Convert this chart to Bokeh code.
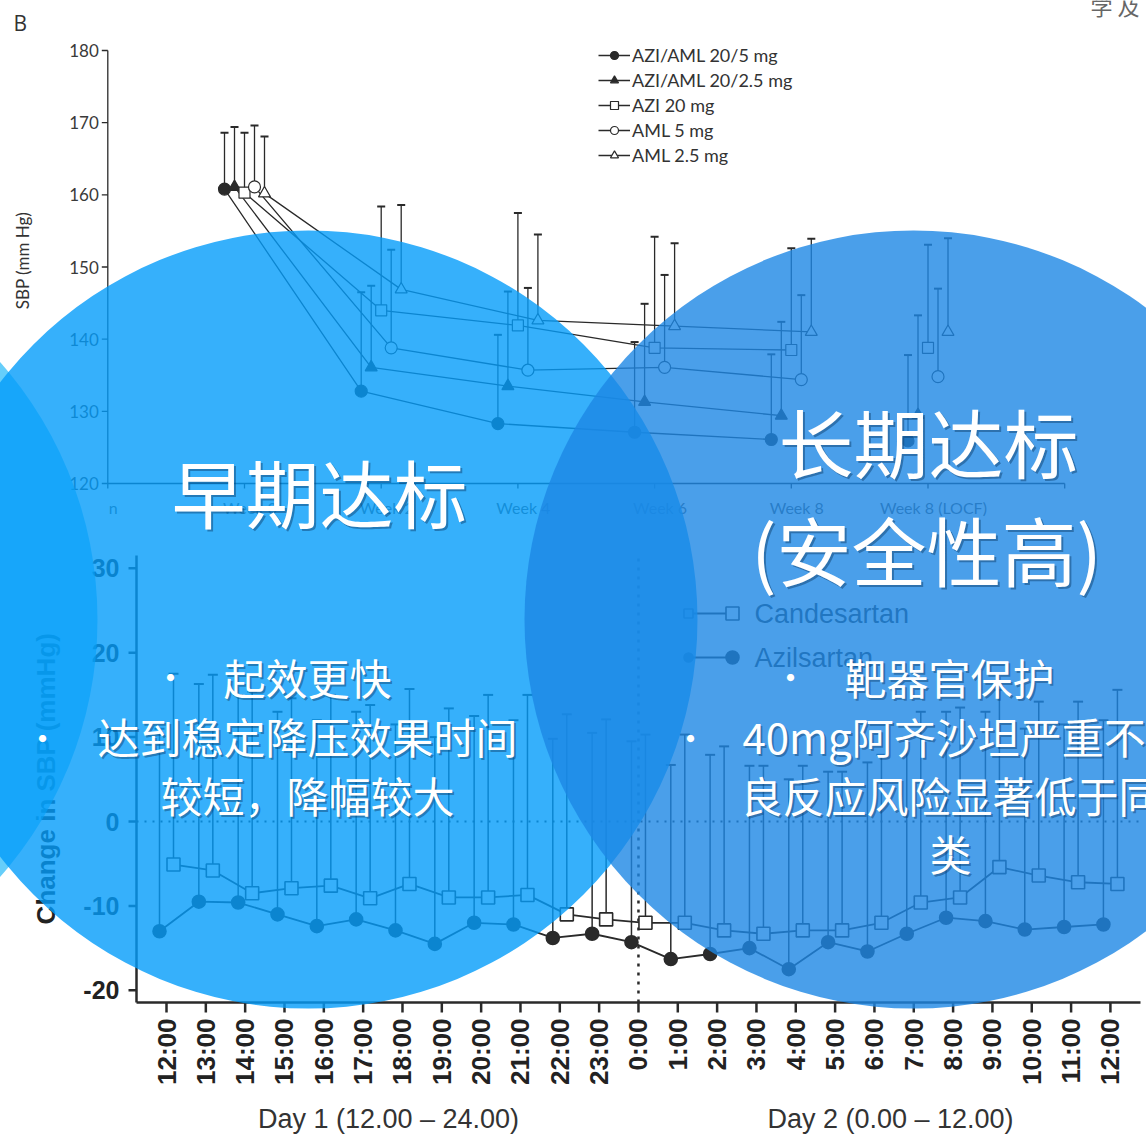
import math
from bokeh.plotting import figure
from bokeh.models import Range1d, Legend, LegendItem
from bokeh.core.properties import value
from bokeh.embed import file_html
from bokeh.resources import INLINE

W, H = 1146, 1135

# ---------------- Top panel: mean SBP (mm Hg), upper whiskers ----------------
top_visits = ["Week 0", "Week 2", "Week 4", "Week 6", "Week 8", "Week 8 (LOCF)"]
top_tick_labels = ["n", "Week 0", "Week 2", "Week 4", "Week 6", "Week 8", "Week 8 (LOCF)"]
top_y_ticks = [120, 130, 140, 150, 160, 170, 180]
top_series = ["AZI/AML 20/5 mg", "AZI/AML 20/2.5 mg", "AZI 20 mg", "AML 5 mg", "AML 2.5 mg"]

sbp_azi_aml_20_5 = [160.8, 132.8, 128.3, 127.1, 126.1, 125.9]
sbp_azi_aml_20_5_up = [168.6, 146.5, 140.6, 139.6, 137.9, 137.8]
sbp_azi_aml_20_25 = [161.1, 136.1, 133.5, 131.3, 129.4, 129.5]
sbp_azi_aml_20_25_up = [169.4, 147.4, 146.6, 144.9, 142.4, 143.3]
sbp_azi_20 = [160.3, 144.0, 141.9, 138.8, 138.5, 138.8]
sbp_azi_20_up = [168.6, 158.4, 157.5, 154.2, 152.6, 153.1]
sbp_aml_5 = [161.1, 138.8, 135.7, 136.1, 134.4, 134.8]
sbp_aml_5_up = [169.6, 152.4, 147.1, 148.9, 146.1, 147.0]
sbp_aml_25 = [160.2, 146.9, 142.6, 141.8, 141.0, 141.0]
sbp_aml_25_up = [168.1, 158.6, 154.5, 153.3, 153.9, 154.0]

# ---------------- Bottom panel: change in SBP (mmHg) by hour ----------------
hour_labels = ["12:00", "13:00", "14:00", "15:00", "16:00", "17:00", "18:00", "19:00",
               "20:00", "21:00", "22:00", "23:00", "0:00", "1:00", "2:00", "3:00",
               "4:00", "5:00", "6:00", "7:00", "8:00", "9:00", "10:00", "11:00", "12:00"]
bottom_y_ticks = [-20, -10, 0, 10, 20, 30]
bottom_series = ["Candesartan", "Azilsartan"]
azil_change = [-13.0, -9.5, -9.6, -11.0, -12.4, -11.6, -12.9, -14.5, -12.0, -12.2, -13.8, -13.3,
               -14.3, -16.3, -15.7, -15.0, -17.5, -14.3, -15.4, -13.3, -11.4, -11.8, -12.8, -12.5, -12.2]
azil_upper = [11.0, 16.3, 15.0, 13.0, 12.0, 13.0, 11.5, 10.0, 12.5, 12.0, 9.8, 10.5,
              9.5, 6.7, 7.9, 6.6, 5.0, 5.9, 7.0, 10.0, 13.0, 13.0, 11.0, 11.5, 12.0]
cand_change = [-5.1, -5.8, -8.5, -7.9, -7.6, -9.1, -7.4, -9.0, -9.0, -8.7, -11.0, -11.6,
               -12.0, -12.0, -12.9, -13.3, -12.9, -12.9, -12.0, -9.6, -9.0, -5.4, -6.4, -7.2, -7.4]
cand_upper = [17.5, 17.4, 15.4, 14.6, 15.0, 13.8, 15.7, 13.4, 15.0, 15.0, 12.7, 12.1,
              10.3, 10.3, 8.9, 6.6, 6.6, 5.9, 7.9, 13.0, 13.5, 15.6, 14.2, 14.2, 15.6]

# ---------------- layout constants (pixel anchors of each panel) ----------------
TX0, TXP = 244.0, 136.7      # top: Week 0 centre (px), px per visit
TY0, TYP = 483.0, 433.0 / 60  # top: 120 mmHg at px, px per mmHg
BX0, BXP = 166.0, 39.33      # bottom: 12:00 day1 (px), px per hour
BY0, BYP = 821.0, 8.44       # bottom: 0 at px, px per mmHg


def xr(px0, ppu, v0=0.0):
    return Range1d(start=v0 + (0 - px0) / ppu, end=v0 + (W - px0) / ppu)


def yr(py0, ppu, v0=0.0):
    return Range1d(start=v0 - (H - py0) / ppu, end=v0 + py0 / ppu)


p = figure(width=W, height=H, x_range=Range1d(0, W), y_range=Range1d(H, 0),
           x_axis_type=None, y_axis_type=None, toolbar_location=None,
           output_backend="svg", min_border=0)
p.outline_line_color = None
p.background_fill_color = "white"
p.border_fill_color = "white"
p.extra_x_ranges = {"tx": xr(TX0, TXP), "bx": xr(BX0, BXP)}
p.extra_y_ranges = {"ty": yr(TY0, TYP, 120.0), "by": yr(BY0, BYP, 0.0)}

INK = "#2a2a2a"
T = dict(x_range_name="tx", y_range_name="ty")
B = dict(x_range_name="bx", y_range_name="by")

# ---------------- top panel axes ----------------
tx_ax0, tx_ax1 = -1, 6
p.segment(x0=[tx_ax0], y0=[top_y_ticks[0]], x1=[tx_ax0], y1=[top_y_ticks[-1]], line_color=INK, line_width=1.3, **T)
p.segment(x0=[tx_ax0], y0=[top_y_ticks[0]], x1=[tx_ax1], y1=[top_y_ticks[0]], line_color=INK, line_width=1.3, **T)
p.segment(x0=[tx_ax0 - 6 / TXP] * len(top_y_ticks), y0=top_y_ticks,
          x1=[tx_ax0] * len(top_y_ticks), y1=top_y_ticks, line_color=INK, line_width=1.3, **T)
top_tick_pos = list(range(tx_ax0, tx_ax1 + 1))
p.segment(x0=top_tick_pos, y0=[120] * len(top_tick_pos), x1=top_tick_pos,
          y1=[120 - 5 / TYP] * len(top_tick_pos), line_color=INK, line_width=1.3, **T)
p.text(x=[tx_ax0] * len(top_y_ticks), y=top_y_ticks, text=[str(t) for t in top_y_ticks],
       x_offset=-9, text_align="right", text_baseline="middle", text_font=value("Lato"),
       text_font_size="17px", text_color="#3a3a3a", **T)
p.text(x=[i + 0.04 for i in range(-1, len(top_tick_labels) - 1)], y=[120 - 24 / TYP] * len(top_tick_labels),
       text=top_tick_labels, text_align="center", text_baseline="middle", text_font=value("Lato"),
       text_font_size="16px", text_color="#555555", **T)

# ---------------- top panel series ----------------
top_means = [sbp_azi_aml_20_5, sbp_azi_aml_20_25, sbp_azi_20, sbp_aml_5, sbp_aml_25]
top_ups = [sbp_azi_aml_20_5_up, sbp_azi_aml_20_25_up, sbp_azi_20_up, sbp_aml_5_up, sbp_aml_25_up]
top_markers = ["circle", "triangle", "square", "circle", "triangle"]
top_fills = [INK, INK, "white", "white", "white"]
top_sizes = [12, 12, 11, 12, 12]
top_offsets_px = [-20, -10, 0, 10, 20]

top_items = []
for name, m, u, mk, fc, sz, off in zip(top_series, top_means, top_ups, top_markers, top_fills, top_sizes, top_offsets_px):
    xs = [i + off / TXP for i in range(len(top_visits))]
    p.segment(x0=xs, y0=m, x1=xs, y1=u, line_color=INK, line_width=1.3, **T)
    p.scatter(x=xs, y=u, marker="dash", size=8, line_color=INK, line_width=2, **T)
    lr = p.line(x=xs[:5], y=m[:5], line_color=INK, line_width=1.3, **T)
    sr = p.scatter(x=xs, y=m, marker=mk, size=sz, fill_color=fc, line_color=INK, line_width=1.2, **T)
    top_items.append(LegendItem(label=name, renderers=[lr, sr]))

leg1 = Legend(items=top_items, location=(598, H - 166), orientation="vertical",
              glyph_width=32, glyph_height=20, label_height=20, spacing=3, label_standoff=2,
              padding=0, margin=0, border_line_color=None, background_fill_alpha=0,
              label_text_font="Lato", label_text_font_size="18px", label_text_color="#333333",
              label_text_baseline="middle")
p.add_layout(leg1)

# ---------------- bottom panel axes ----------------
XB_AX, XB_END = (136 - BX0) / BXP, (1140 - BX0) / BXP
YB_TOP, YB_BOT = (BY0 - 555) / BYP, -(1002 - BY0) / BYP
p.segment(x0=[XB_AX], y0=[YB_BOT], x1=[XB_AX], y1=[YB_TOP], line_color=INK, line_width=2.5, **B)
p.segment(x0=[XB_AX], y0=[YB_BOT], x1=[XB_END], y1=[YB_BOT], line_color=INK, line_width=2.5, **B)
p.segment(x0=[XB_AX - 8 / BXP] * len(bottom_y_ticks), y0=bottom_y_ticks,
          x1=[XB_AX] * len(bottom_y_ticks), y1=bottom_y_ticks, line_color=INK, line_width=2.5, **B)
hours = list(range(len(hour_labels)))
p.segment(x0=hours, y0=[YB_BOT] * len(hours), x1=hours, y1=[YB_BOT - 10 / BYP] * len(hours),
          line_color=INK, line_width=2.5, **B)
p.text(x=[XB_AX] * len(bottom_y_ticks), y=bottom_y_ticks, text=[str(t) for t in bottom_y_ticks],
       x_offset=-17, text_align="right", text_baseline="middle", text_font=value("Liberation Sans"),
       text_font_style="bold", text_font_size="25px", text_color="#222222", **B)
p.text(x=hours, y=[YB_BOT - 16 / BYP] * len(hours), text=hour_labels, angle=math.pi / 2,
       text_align="right", text_baseline="middle", text_font=value("Liberation Sans"),
       text_font_style="bold", text_font_size="26px", text_color="#222222", **B)
p.segment(x0=[XB_AX], y0=[0], x1=[XB_END], y1=[0], line_color=INK, line_width=2,
          line_dash="2 6", **B)
p.segment(x0=[12], y0=[YB_BOT], x1=[12], y1=[YB_TOP], line_color=INK, line_width=2.5,
          line_dash="3 6", **B)
p.text(x=[388, 890], y=[1118, 1118], text=["Day 1 (12.00 – 24.00)", "Day 2 (0.00 – 12.00)"],
       text_align="center", text_baseline="middle", text_font=value("Liberation Sans"),
       text_font_size="27px", text_color="#333333")
p.text(x=[45], y=[778], text=["Change in SBP (mmHg)"], angle=math.pi / 2, text_align="center",
       text_baseline="middle", text_font=value("Liberation Sans"), text_font_style="bold",
       text_font_size="26px", text_color="#222222")

# ---------------- bottom panel series ----------------
bottom_means = [cand_change, azil_change]
bottom_ups = [cand_upper, azil_upper]
bottom_markers = ["square", "circle"]
bottom_fills = ["white", INK]
bottom_offsets_px = [7, -7]
for m, u, mk, fc, off in zip(bottom_means, bottom_ups, bottom_markers, bottom_fills, bottom_offsets_px):
    xs = [h + off / BXP for h in hours]
    p.segment(x0=xs, y0=m, x1=xs, y1=u, line_color=INK, line_width=1.5, **B)
    p.scatter(x=xs, y=u, marker="dash", size=10, line_color=INK, line_width=2, **B)
    p.line(x=xs, y=m, line_color=INK, line_width=1.8, **B)
    p.scatter(x=xs, y=m, marker=mk, size=13, fill_color=fc, line_color=INK, line_width=1.6, **B)

# bottom legend key (drawn beneath the overlay circles, as in the slide)
leg_rows_y = [613, 657]
p.segment(x0=[686, 686], y0=leg_rows_y, x1=[734, 734], y1=leg_rows_y, line_color=INK, line_width=1.8)
for ly, mk, fc in zip(leg_rows_y, bottom_markers, bottom_fills):
    p.scatter(x=[688, 732], y=[ly, ly], marker=mk, size=[9, 13], fill_color=fc, line_color=INK, line_width=1.6)
p.text(x=[754, 754], y=leg_rows_y, text=bottom_series, text_align="left", text_baseline="middle",
       text_font=value("Liberation Sans"), text_font_size="27px", text_color="#333333")

# ---------------- page labels ----------------
p.text(x=[13], y=[22], text=["B"], text_align="left", text_baseline="middle",
       text_font=value("Open Sans"), text_font_size="21px", text_color="#333333")
p.text(x=[22], y=[260], text=["SBP (mm Hg)"], angle=math.pi / 2, text_align="center",
       text_baseline="middle", text_font=value("Lato"), text_font_size="17px", text_color="#333333")
p.text(x=[1090], y=[4], text=["学  及"], text_align="left", text_baseline="middle",
       text_font=value("Noto Sans CJK SC"), text_font_size="22px", text_color="#666666")

# ---------------- overlay circles ----------------
R = 389
for cx, cy, col, a in [(-292, 619, "#14B4F8", 0.65), (308, 619, "#049CFA", 0.8), (913, 619, "#1D87E5", 0.8)]:
    c = p.circle(x=[cx], y=[cy], radius=R, fill_color=col, fill_alpha=a, line_color=None)
    c.level = "overlay"

# ---------------- Chinese overlay text ----------------
cjk = value("Noto Sans CJK SC")
lines = [
    (319, 490, "早期达标", "74px", "center"),
    (928, 440, "长期达标", "75px", "center"),
    (926, 548, "(安全性高)", "75px", "center"),
    (307, 676, "起效更快", "42px", "center"),
    (307, 735, "达到稳定降压效果时间", "42px", "center"),
    (307, 794, "较短，降幅较大", "42px", "center"),
    (949, 676, "靶器官保护", "42px", "center"),
    (742, 735, "40mg阿齐沙坦严重不", "42px", "left"),
    (740, 794, "良反应风险显著低于同", "42px", "left"),
    (950, 852, "类", "42px", "center"),
]
for x, y, t, fs, al in lines:
    sh = p.text(x=[x + 2], y=[y + 2], text=[t], text_align=al, text_baseline="middle",
                text_font=cjk, text_font_size=fs, text_color="#0b3a66", text_alpha=0.45)
    sh.level = "overlay"
    tr = p.text(x=[x], y=[y], text=[t], text_align=al, text_baseline="middle",
                text_font=cjk, text_font_size=fs, text_color="white")
    tr.level = "overlay"

bullets = p.text(x=[170, 42, 790, 690], y=[676, 737, 676, 737], text=["•"] * 4, text_align="center",
                 text_baseline="middle", text_font=cjk, text_font_size="34px", text_color="white")
bullets.level = "overlay"

open("out.html", "w").write(file_html(p, INLINE))
